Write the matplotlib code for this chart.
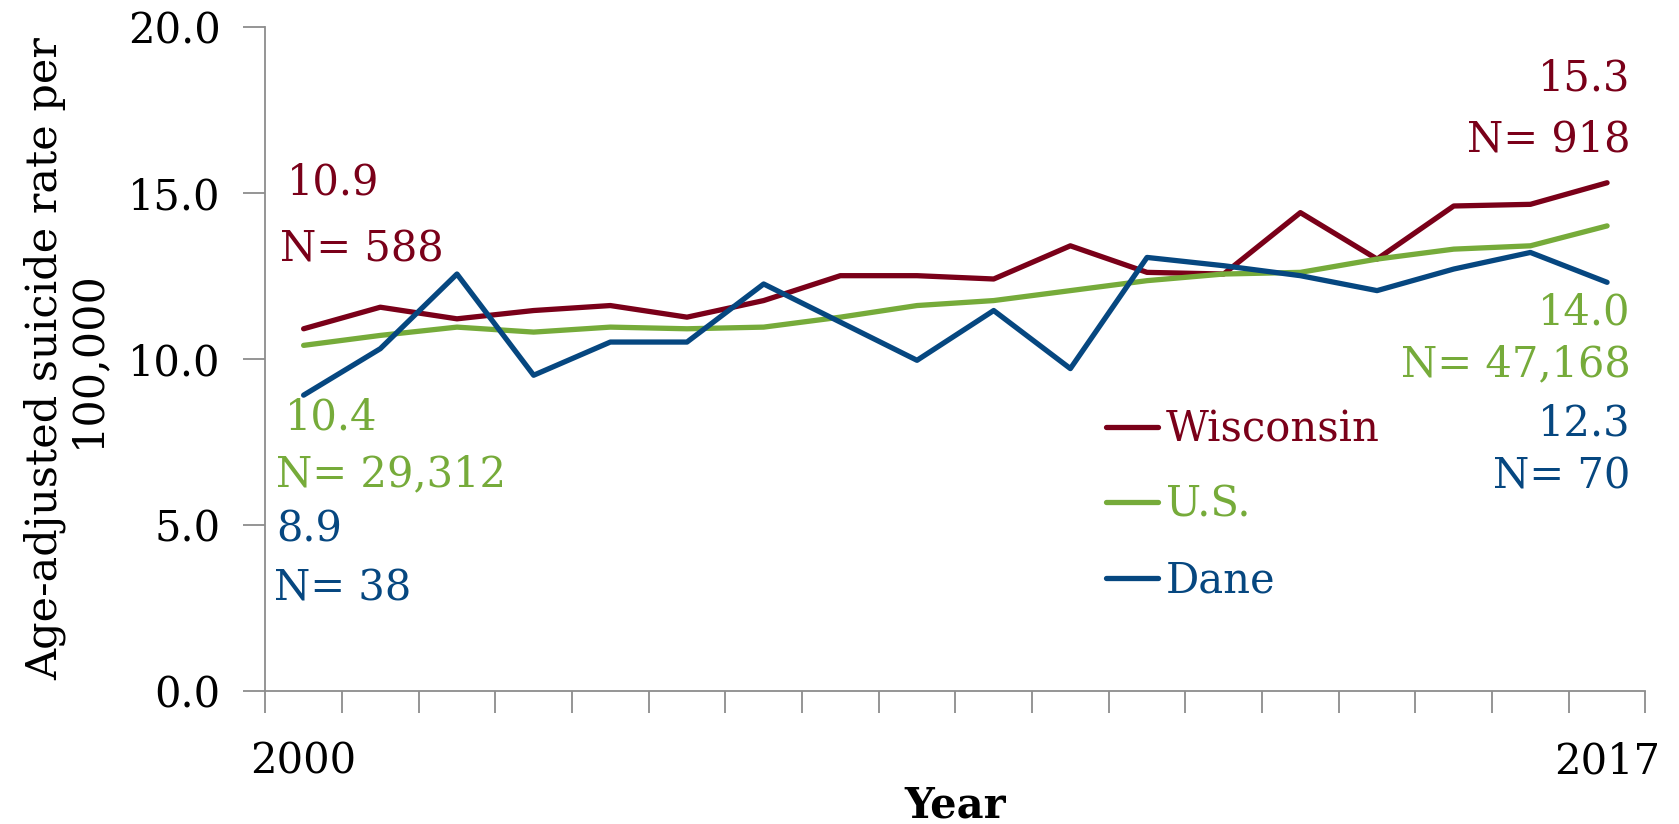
import numpy as np
import matplotlib.pyplot as plt

plt.rcParams['font.family'] = ['DejaVu Serif']

years = list(range(2000, 2018))
wisconsin = [10.9, 11.55, 11.2, 11.45, 11.6, 11.25, 11.75, 12.5, 12.5, 12.4,
             13.4, 12.6, 12.55, 14.4, 13.0, 14.6, 14.65, 15.3]
us = [10.4, 10.7, 10.95, 10.8, 10.95, 10.9, 10.95, 11.25, 11.6, 11.75,
      12.05, 12.35, 12.55, 12.6, 13.0, 13.3, 13.4, 14.0]
dane = [8.9, 10.3, 12.55, 9.5, 10.5, 10.5, 12.25, 11.1, 9.95, 11.45,
        9.7, 13.05, 12.8, 12.5, 12.05, 12.7, 13.2, 12.3]
deaths_first = {'Wisconsin': '588', 'U.S.': '29,312', 'Dane': '38'}
deaths_last = {'Wisconsin': '918', 'U.S.': '47,168', 'Dane': '70'}

c_wi = '#7a0019'
c_us = '#76ab3a'
c_dane = '#064780'
grey = '#8c8c8c'
fs = 30
lw = 3.8

fig = plt.figure(figsize=(16.79, 8.24), dpi=100)
ax = fig.add_axes([0.158, 0.162, 0.822, 0.8055])

x = np.arange(len(years))
ax.plot(x, wisconsin, color=c_wi, lw=lw, label='Wisconsin', solid_capstyle='round', clip_on=False)
ax.plot(x, us, color=c_us, lw=lw, label='U.S.', solid_capstyle='round', clip_on=False)
ax.plot(x, dane, color=c_dane, lw=lw, label='Dane', solid_capstyle='round', clip_on=False)

ax.set_xlim(-0.5, len(years) - 0.5)
ax.set_ylim(0, 20)
ax.set_yticks(np.arange(0, 20.1, 5))
ax.set_yticklabels(['%.1f' % v for v in np.arange(0, 20.1, 5)])

# category boundaries get the tick marks, first/last year get the labels
ax.set_xticks(np.arange(-0.5, len(years), 1.0))
ax.set_xticklabels([])
ax.set_xticks([0, len(years) - 1], minor=True)
ax.set_xticklabels([str(years[0]), str(years[-1])], minor=True)
ax.tick_params(axis='x', which='major', length=16, width=1.3, color=grey, direction='out')
ax.tick_params(axis='x', which='minor', length=0, pad=36, labelsize=fs)
ax.tick_params(axis='y', length=16, width=1.3, color=grey, direction='out', pad=16, labelsize=fs)

for s in ['top', 'right']:
    ax.spines[s].set_visible(False)
for s in ['left', 'bottom']:
    ax.spines[s].set_color(grey)
    ax.spines[s].set_linewidth(1.3)

ax.set_ylabel('Age-adjusted suicide rate per\n100,000', fontsize=31, linespacing=1.0)
ax.yaxis.set_label_coords(-0.114, 0.5)
ax.set_xlabel('Year', fontsize=fs, fontweight='bold')
ax.xaxis.set_label_coords(0.5, -0.142)

# start / end values with counts
ax.text(-0.22, 15.32, '%.1f' % wisconsin[0], color=c_wi, fontsize=fs, ha='left', va='center')
ax.text(-0.31, 13.29, 'N= ' + deaths_first['Wisconsin'], color=c_wi, fontsize=fs, ha='left', va='center')
ax.text(-0.25, 8.23, '%.1f' % us[0], color=c_us, fontsize=fs, ha='left', va='center')
ax.text(-0.36, 6.52, 'N= ' + deaths_first['U.S.'], color=c_us, fontsize=fs, ha='left', va='center')
ax.text(-0.36, 4.84, '%.1f' % dane[0], color=c_dane, fontsize=fs, ha='left', va='center')
ax.text(-0.39, 3.06, 'N= ' + deaths_first['Dane'], color=c_dane, fontsize=fs, ha='left', va='center')

ax.text(17.31, 18.45, '%.1f' % wisconsin[-1], color=c_wi, fontsize=fs, ha='right', va='center')
ax.text(17.31, 16.61, 'N= ' + deaths_last['Wisconsin'], color=c_wi, fontsize=fs, ha='right', va='center')
ax.text(17.31, 11.39, '%.1f' % us[-1], color=c_us, fontsize=fs, ha='right', va='center')
ax.text(17.31, 9.84, 'N= ' + deaths_last['U.S.'], color=c_us, fontsize=fs, ha='right', va='center')
ax.text(17.31, 8.06, '%.1f' % dane[-1], color=c_dane, fontsize=fs, ha='right', va='center')
ax.text(17.31, 6.45, 'N= ' + deaths_last['Dane'], color=c_dane, fontsize=fs, ha='right', va='center')

leg = ax.legend(loc='upper left', bbox_to_anchor=(0.609, 0.425), frameon=False,
                fontsize=fs, handlelength=1.25, handletextpad=0.2, labelspacing=0.8,
                borderpad=0, borderaxespad=0, labelcolor='linecolor')

fig.savefig('out.png', dpi=100)
